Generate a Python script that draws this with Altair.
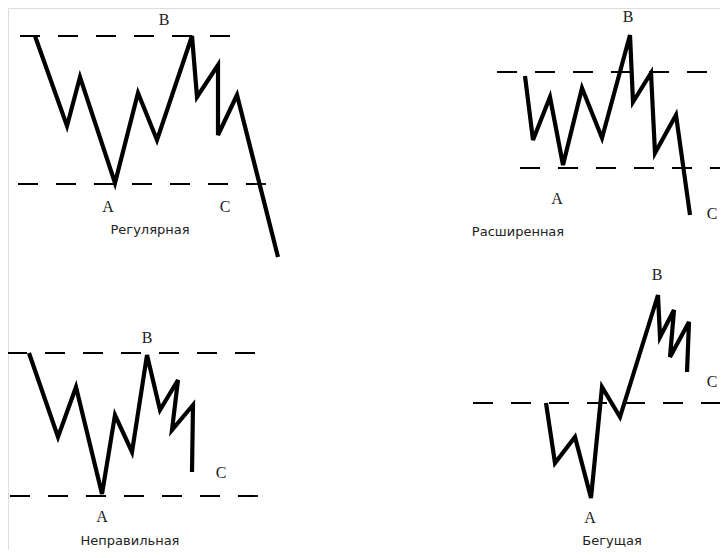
import altair as alt
import pandas as pd

# Wave paths (x, y; y grows downwards)
reg_x = [35, 67, 80, 115, 138, 157, 192, 197, 218, 218, 237, 278]
reg_y = [36, 126, 77, 183, 93, 140, 36, 97, 65, 135, 95, 257]

ext_x = [525, 533, 550, 563, 582, 602, 630, 633, 651, 655, 676, 690]
ext_y = [76, 140, 97, 165, 88, 138, 35, 102, 73, 153, 115, 215]

irr_x = [29, 58, 76, 102, 115, 132, 147, 160, 178, 172, 193, 192]
irr_y = [353, 437, 387, 494, 415, 452, 355, 410, 380, 430, 405, 472]

run_x = [546, 555, 575, 591, 602, 620, 658, 660, 674, 670, 689, 687]
run_y = [403, 463, 437, 498, 387, 417, 295, 337, 310, 357, 322, 372]

# Dashed reference levels: (x start, x end, y)
lvl_x1 = [20, 18, 497, 520, 7, 10, 473]
lvl_x2 = [238, 282, 728, 728, 270, 272, 728]
lvl_y = [36, 184, 72, 168, 353, 496, 403]

# Point labels
lab_text = ["B", "A", "C", "B", "A", "C", "B", "A", "C", "B", "A", "C"]
lab_x = [164, 108, 225, 628, 557, 712, 147, 102, 221, 657, 590, 712]
lab_y = [20, 207, 207, 17, 199, 214, 338, 517, 473, 275, 518, 382]

# Captions
cap_text = ["Регулярная", "Расширенная", "Неправильная", "Бегущая"]
cap_x = [150, 518, 130, 612]
cap_y = [230, 232, 541, 541]

rows = []
for name, xs, ys in [("reg", reg_x, reg_y), ("ext", ext_x, ext_y),
                     ("irr", irr_x, irr_y), ("run", run_x, run_y)]:
    for i, (a, b) in enumerate(zip(xs, ys)):
        rows.append({"panel": name, "i": i, "x": a, "y": b})
paths = pd.DataFrame(rows)
levels = pd.DataFrame({"x1": lvl_x1, "x2": lvl_x2, "y": lvl_y})
labels = pd.DataFrame({"t": lab_text, "x": lab_x, "y": lab_y})
caps = pd.DataFrame({"t": cap_text, "x": cap_x, "y": cap_y})

W, H = 712, 542
xs = alt.Scale(domain=[8, 8 + W], nice=False, zero=False)
ys = alt.Scale(domain=[8, 8 + H], nice=False, zero=False, reverse=True)
X = lambda f: alt.X(f, type="quantitative", scale=xs, axis=None)
Y = lambda f: alt.Y(f, type="quantitative", scale=ys, axis=None)

lines = alt.Chart(paths).mark_line(
    color="black", strokeWidth=4.2, strokeJoin="miter", strokeCap="butt", clip=True
).encode(x=X("x"), y=Y("y"), detail="panel:N", order="i:Q")

dash = alt.Chart(levels).mark_rule(
    color="black", strokeWidth=1.8, strokeDash=[20, 18], clip=True
).encode(x=X("x1"), x2="x2:Q", y=Y("y"))

lab = alt.Chart(labels).mark_text(
    font="Liberation Serif", fontSize=16, color="#222", align="center", baseline="middle"
).encode(x=X("x"), y=Y("y"), text="t:N")

cap = alt.Chart(caps).mark_text(
    font="DejaVu Sans", fontSize=13, color="#222", align="center", baseline="middle"
).encode(x=X("x"), y=Y("y"), text="t:N")

chart = alt.layer(dash, lines, lab, cap).properties(
    width=W, height=H, padding=0, autosize=alt.AutoSizeParams(type="none")
).configure_view(strokeWidth=0).configure(background="white")

chart.save("out.html", embed_options={"renderer": "svg", "actions": False})
